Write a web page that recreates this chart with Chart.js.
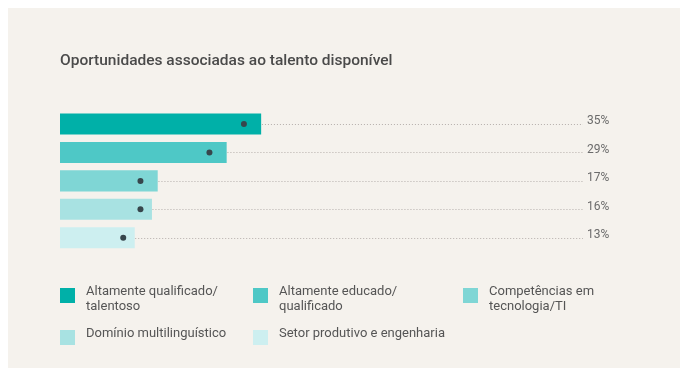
<!DOCTYPE html>
<html>
<head>
<meta charset="utf-8">
<script src="https://cdn.jsdelivr.net/npm/chart.js@4.4.1/dist/chart.umd.min.js"></script>
<style>
  html, body { margin: 0; padding: 0; background: #ffffff; }
  body { width: 692px; height: 378px; position: relative; overflow: hidden; }
  #panel { position: absolute; left: 8px; top: 8px; width: 672px; height: 360px; background: #f5f2ed; }
  #wrap { position: absolute; left: 0; top: 0; width: 692px; height: 378px; }
  #legend { position: absolute; left: 0; top: 0; width: 692px; height: 378px; font-family: Roboto, "Noto Sans", sans-serif; font-size: 13px; color: #555; }
  .sw { position: absolute; width: 15px; height: 15px; }
  .tx { position: absolute; line-height: 15px; white-space: nowrap; }
</style>
</head>
<body>
<div id="panel"></div>
<div id="wrap"><canvas id="c" width="692" height="378"></canvas></div>
<div id="legend"></div>
<script>
const title = "Oportunidades associadas ao talento disponível";
const categories = [
  ["Altamente qualificado/", "talentoso"],
  ["Altamente educado/", "qualificado"],
  ["Competências em", "tecnologia/TI"],
  ["Domínio multilinguístico"],
  ["Setor produtivo e engenharia"]
];
const values = [35, 29, 17, 16, 13];
const markerValues = [32, 26, 14, 14, 11];
const valueLabels = ["35%", "29%", "17%", "16%", "13%"];
const colors = ["#00b0a8", "#4ec8c6", "#7fd6d5", "#a8e2e2", "#cdeff0"];

const guidePlugin = {
  id: 'guides',
  beforeDatasetsDraw(chart) {
    const ctx = chart.ctx, area = chart.chartArea;
    const dots = chart.getDatasetMeta(0).data, bars = chart.getDatasetMeta(1).data;
    ctx.save();
    ctx.strokeStyle = '#b5aeab'; ctx.lineWidth = 1; ctx.setLineDash([1, 2]);
    dots.forEach((d, i) => {
      const y = Math.round(bars[i].y) + 0.5;
      ctx.beginPath(); ctx.moveTo(d.x, y); ctx.lineTo(area.right, y); ctx.stroke();
    });
    ctx.restore();
  },
  afterDatasetsDraw(chart) {
    const ctx = chart.ctx, area = chart.chartArea;
    const bars = chart.getDatasetMeta(1).data;
    ctx.save();
    ctx.fillStyle = '#6b6b6b';
    ctx.font = '12px Roboto, "Noto Sans", sans-serif';
    ctx.textAlign = 'left';
    ctx.textBaseline = 'middle';
    bars.forEach((b, i) => {
      ctx.fillText(valueLabels[i], area.right + 4, b.y - 2.5);
    });
    ctx.restore();
  }
};

new Chart(document.getElementById('c'), {
  data: {
    labels: categories,
    datasets: [
      {
        type: 'line',
        data: markerValues,
        showLine: false,
        pointRadius: 3,
        pointHoverRadius: 3,
        pointBackgroundColor: '#37464c',
        pointBorderWidth: 0,
        order: 0
      },
      {
        type: 'bar',
        data: values,
        backgroundColor: colors,
        borderWidth: 0,
        categoryPercentage: 1,
        barPercentage: 0.74,
        order: 1
      }
    ]
  },
  options: {
    indexAxis: 'y',
    responsive: false,
    animation: false,
    events: [],
    layout: { padding: { left: 60, right: 109, top: 0, bottom: 126 } },
    scales: {
      x: { display: false, min: 0, max: 91 },
      y: { display: false }
    },
    plugins: {
      legend: { display: false },
      tooltip: { enabled: false },
      title: {
        display: true,
        text: title,
        align: 'start',
        color: '#4a4a4a',
        font: { family: 'Roboto, "Noto Sans", sans-serif', size: 15.5, weight: '500', lineHeight: 1.2 },
        padding: { top: 51.5, bottom: 39.65 }
      }
    }
  },
  plugins: [guidePlugin]
});

const legendPos = [
  { x: 60, y: 288 }, { x: 253, y: 288 }, { x: 463, y: 288 },
  { x: 60, y: 330 }, { x: 253, y: 330 }
];
const leg = document.getElementById('legend');
categories.forEach((c, i) => {
  const sw = document.createElement('div');
  sw.className = 'sw';
  sw.style.left = legendPos[i].x + 'px';
  sw.style.top = legendPos[i].y + 'px';
  sw.style.background = colors[i];
  const tx = document.createElement('div');
  tx.className = 'tx';
  tx.style.left = (legendPos[i].x + 26) + 'px';
  tx.style.top = (legendPos[i].y - 5) + 'px';
  tx.innerHTML = c.join('<br>');
  leg.appendChild(sw); leg.appendChild(tx);
});
</script>
</body>
</html>
